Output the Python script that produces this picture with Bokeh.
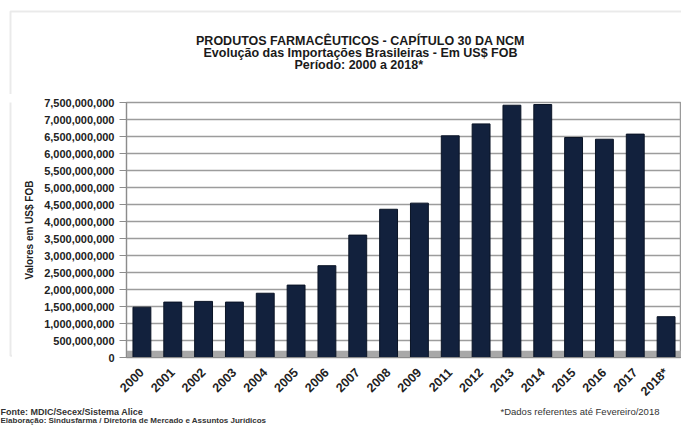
import math
from bokeh.plotting import figure
from bokeh.layouts import column, row
from bokeh.models import (FactorRange, Range1d, NumeralTickFormatter, SingleIntervalTicker,
                          Label, BoxAnnotation, ColumnDataSource)
from bokeh.embed import file_html
from bokeh.resources import INLINE

# ---- data ----
years = ["2000", "2001", "2002", "2003", "2004", "2005", "2006", "2007", "2008", "2009",
         "2011", "2012", "2013", "2014", "2015", "2016", "2017", "2018*"]
imports_usd = [1.48e9, 1.63e9, 1.65e9, 1.63e9, 1.89e9, 2.13e9, 2.70e9, 3.60e9, 4.36e9, 4.54e9,
               6.52e9, 6.87e9, 7.42e9, 7.44e9, 6.47e9, 6.42e9, 6.57e9, 1.20e9]
title_lines = ["PRODUTOS FARMACÊUTICOS - CAPÍTULO 30 DA NCM",
               "Evolução das Importações Brasileiras - Em US$ FOB",
               "Período:  2000 a 2018*"]
y_axis_title = "Valores em US$ FOB"
source_note = "Fonte: MDIC/Secex/Sistema Alice"
author_note = "Elaboração: Sindusfarma / Diretoria de Mercado e Assuntos Jurídicos"
data_note = "*Dados referentes até Fevereiro/2018"

FONT = "Liberation Sans"
W = 681
HEAD_H, MAIN_H, FOOT_H = 94, 312, 19
STRIP_W = 12
BORDER = "#b8b8b8"


def blank(width, height):
    f = figure(width=width, height=height, output_backend="svg", toolbar_location=None,
               x_range=Range1d(0, width), y_range=Range1d(height, 0),
               x_axis_type=None, y_axis_type=None,
               min_border=0, min_border_left=0, min_border_right=0,
               min_border_top=0, min_border_bottom=0,
               background_fill_color="white", border_fill_color="white")
    f.outline_line_color = None
    f.grid.visible = False
    return f


# ---- header with title ----
head = blank(W, HEAD_H)
head.add_layout(BoxAnnotation(left=10, right=W + 50, top=11, bottom=HEAD_H + 50,
                              fill_color=None, line_color=BORDER, line_width=2))
for txt, yy in zip(title_lines, [40, 52, 64]):
    head.add_layout(Label(x=360, y=yy, text=txt, text_align="center", text_baseline="middle",
                          text_font=FONT, text_font_style="bold", text_font_size="12.5px",
                          text_color="#1a1a1a"))

# ---- left strip carrying the outer border ----
strip = blank(STRIP_W, MAIN_H)
strip.add_layout(BoxAnnotation(left=10, right=STRIP_W + 50, top=-50, bottom=MAIN_H - 2,
                               fill_color=None, line_color=BORDER, line_width=2))

# ---- main chart ----
src = ColumnDataSource(dict(year=years, value=imports_usd))
p = figure(width=W - STRIP_W, height=MAIN_H, output_backend="svg", toolbar_location=None,
           x_range=FactorRange(factors=years, range_padding=0),
           y_range=Range1d(0, 7.5e9),
           min_border_left=126 - STRIP_W, min_border_right=0, min_border_top=8,
           min_border_bottom=46,
           background_fill_color="white", border_fill_color="white")
p.outline_line_color = "#9a9a9a"
p.outline_line_width = 1.5

p.add_layout(BoxAnnotation(bottom=0, top=0.2e9, fill_color="#a8a8a8", fill_alpha=1.0,
                           line_color=None, level="underlay"))

p.vbar(x="year", top="value", width=0.58, source=src,
       fill_color="#12213d", line_color="#0a1426", line_width=1)

p.yaxis.ticker = SingleIntervalTicker(interval=5e8)
p.yaxis.formatter = NumeralTickFormatter(format="0,0")
p.yaxis.major_label_text_font = FONT
p.yaxis.major_label_text_font_style = "bold"
p.yaxis.major_label_text_font_size = "11px"
p.yaxis.major_label_text_color = "#222222"
p.yaxis.axis_line_color = "#8c8c8c"
p.yaxis.major_tick_line_color = "#8c8c8c"
p.yaxis.major_tick_out = 7
p.yaxis.major_tick_in = 0
p.yaxis.minor_tick_line_color = None
p.yaxis.axis_label = y_axis_title
p.yaxis.axis_label_text_font = FONT
p.yaxis.axis_label_text_font_style = "bold"
p.yaxis.axis_label_text_font_size = "10px"
p.yaxis.axis_label_text_color = "#222222"
p.yaxis.axis_label_standoff = 6

p.xaxis.major_label_orientation = math.pi / 4
p.xaxis.major_label_text_font = FONT
p.xaxis.major_label_text_font_style = "bold"
p.xaxis.major_label_text_font_size = "12.5px"
p.xaxis.major_label_text_color = "#222222"
p.xaxis.axis_line_color = "#8c8c8c"
p.xaxis.major_tick_line_color = None
p.xaxis.minor_tick_line_color = None
p.xaxis.major_label_standoff = 7

p.xgrid.grid_line_color = None
p.ygrid.grid_line_color = "#9c9c9c"
p.ygrid.grid_line_width = 1.3

# ---- footer ----
foot = blank(W, FOOT_H)
foot.add_layout(Label(x=0, y=5, text=source_note, text_align="left", text_baseline="middle",
                      text_font=FONT, text_font_style="bold", text_font_size="9px",
                      text_color="#333333"))
foot.add_layout(Label(x=0, y=14, text=author_note, text_align="left", text_baseline="middle",
                      text_font=FONT, text_font_style="bold", text_font_size="8px",
                      text_color="#333333"))
foot.add_layout(Label(x=500, y=5, text=data_note, text_align="left", text_baseline="middle",
                      text_font=FONT, text_font_size="9.5px", text_color="#333333"))

layout = column(head, row(strip, p, spacing=0), foot, spacing=0)
open("out.html", "w").write(file_html(layout, INLINE))
